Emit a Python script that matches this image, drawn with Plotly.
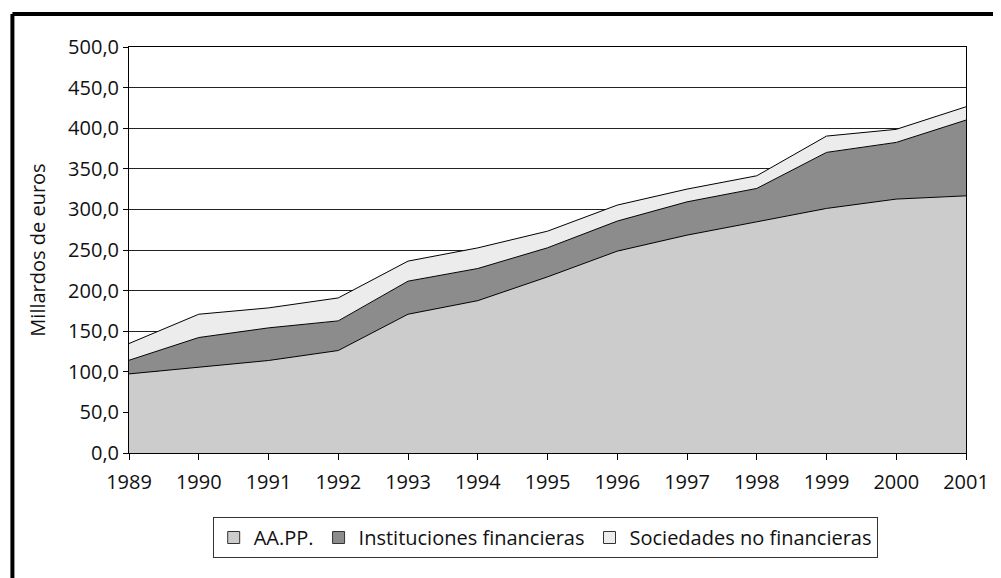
import plotly.graph_objects as go

years = [1989, 1990, 1991, 1992, 1993, 1994, 1995, 1996, 1997, 1998, 1999, 2000, 2001]
aapp = [97.4, 105.2, 113.9, 126.2, 170.9, 187.6, 216.9, 248.6, 268.3, 284.7, 301.2, 312.7, 316.7]
inst = [16.8, 37.0, 40.2, 36.5, 40.7, 39.6, 35.8, 37.0, 41.0, 41.1, 69.0, 69.8, 93.3]
soc = [20.6, 28.7, 24.6, 28.3, 24.7, 25.4, 20.5, 19.7, 15.7, 15.6, 20.1, 16.1, 16.4]

names = ["AA.PP.", "Instituciones financieras", "Sociedades no financieras"]
fills = ["#cccccc", "#8c8c8c", "#ececec"]
series = [aapp, inst, soc]

FONT = "Open Sans"
FS = 20

fig = go.Figure()
for nm, col, vals in zip(names, fills, series):
    fig.add_trace(go.Scatter(
        x=years, y=vals, name=nm, mode="lines", stackgroup="one",
        line=dict(color="black", width=1), fillcolor=col,
        showlegend=False, hoverinfo="skip"))
for nm, col in zip(names, fills):
    fig.add_trace(go.Bar(x=[None], y=[None], name=nm,
                         marker=dict(color=col, line=dict(color="#333333", width=1))))

OFF = 8  # page body margin
L, R, T, B = 129 - OFF, 969 - OFF, 47 - OFF, 453 - OFF
W, H = 1001 - OFF, 578 - OFF

def px(xp):
    return (xp - OFF - L) / (R - L)

def py(yp):
    return (B - (yp - OFF)) / (B - T)

fig.update_layout(
    width=W, height=H,
    margin=dict(l=L, r=W - R, t=T, b=H - B, pad=0),
    paper_bgcolor="white", plot_bgcolor="white",
    font=dict(family=FONT, size=FS, color="#111111"),
    separators=",.",
    showlegend=True,
    legend=dict(orientation="h", x=px(213), y=py(517), xanchor="left", yanchor="top",
                bordercolor="#333333", borderwidth=1, bgcolor="white",
                font=dict(size=FS), traceorder="normal", itemwidth=30,
                tracegroupgap=0),
    xaxis=dict(range=[1989, 2001], tickmode="array", tickvals=years,
               ticktext=[str(y) for y in years],
               showgrid=False, zeroline=False, showline=True, linecolor="black",
               linewidth=1, mirror=True, ticks="outside", ticklen=6,
               tickcolor="black", tickfont=dict(size=FS), ticklabelstandoff=5),
    yaxis=dict(range=[0, 500], dtick=50, tickformat=".1f",
               showgrid=True, gridcolor="#222222", gridwidth=1,
               zeroline=False, showline=True, linecolor="black", linewidth=1,
               mirror=True, ticks="outside", ticklen=5, tickcolor="black",
               tickfont=dict(size=FS),
               title=dict(text="Millardos de euros", font=dict(size=FS), standoff=17)),
)

# outer thick frame (partially visible: left and top edges)
fig.add_shape(type="line", xref="paper", yref="paper",
              x0=px(12), x1=px(1010), y0=py(14), y1=py(14),
              line=dict(color="black", width=4))
fig.add_shape(type="line", xref="paper", yref="paper",
              x0=px(12), x1=px(12), y0=py(14), y1=py(590),
              line=dict(color="black", width=4))

fig.write_html("out.html")
